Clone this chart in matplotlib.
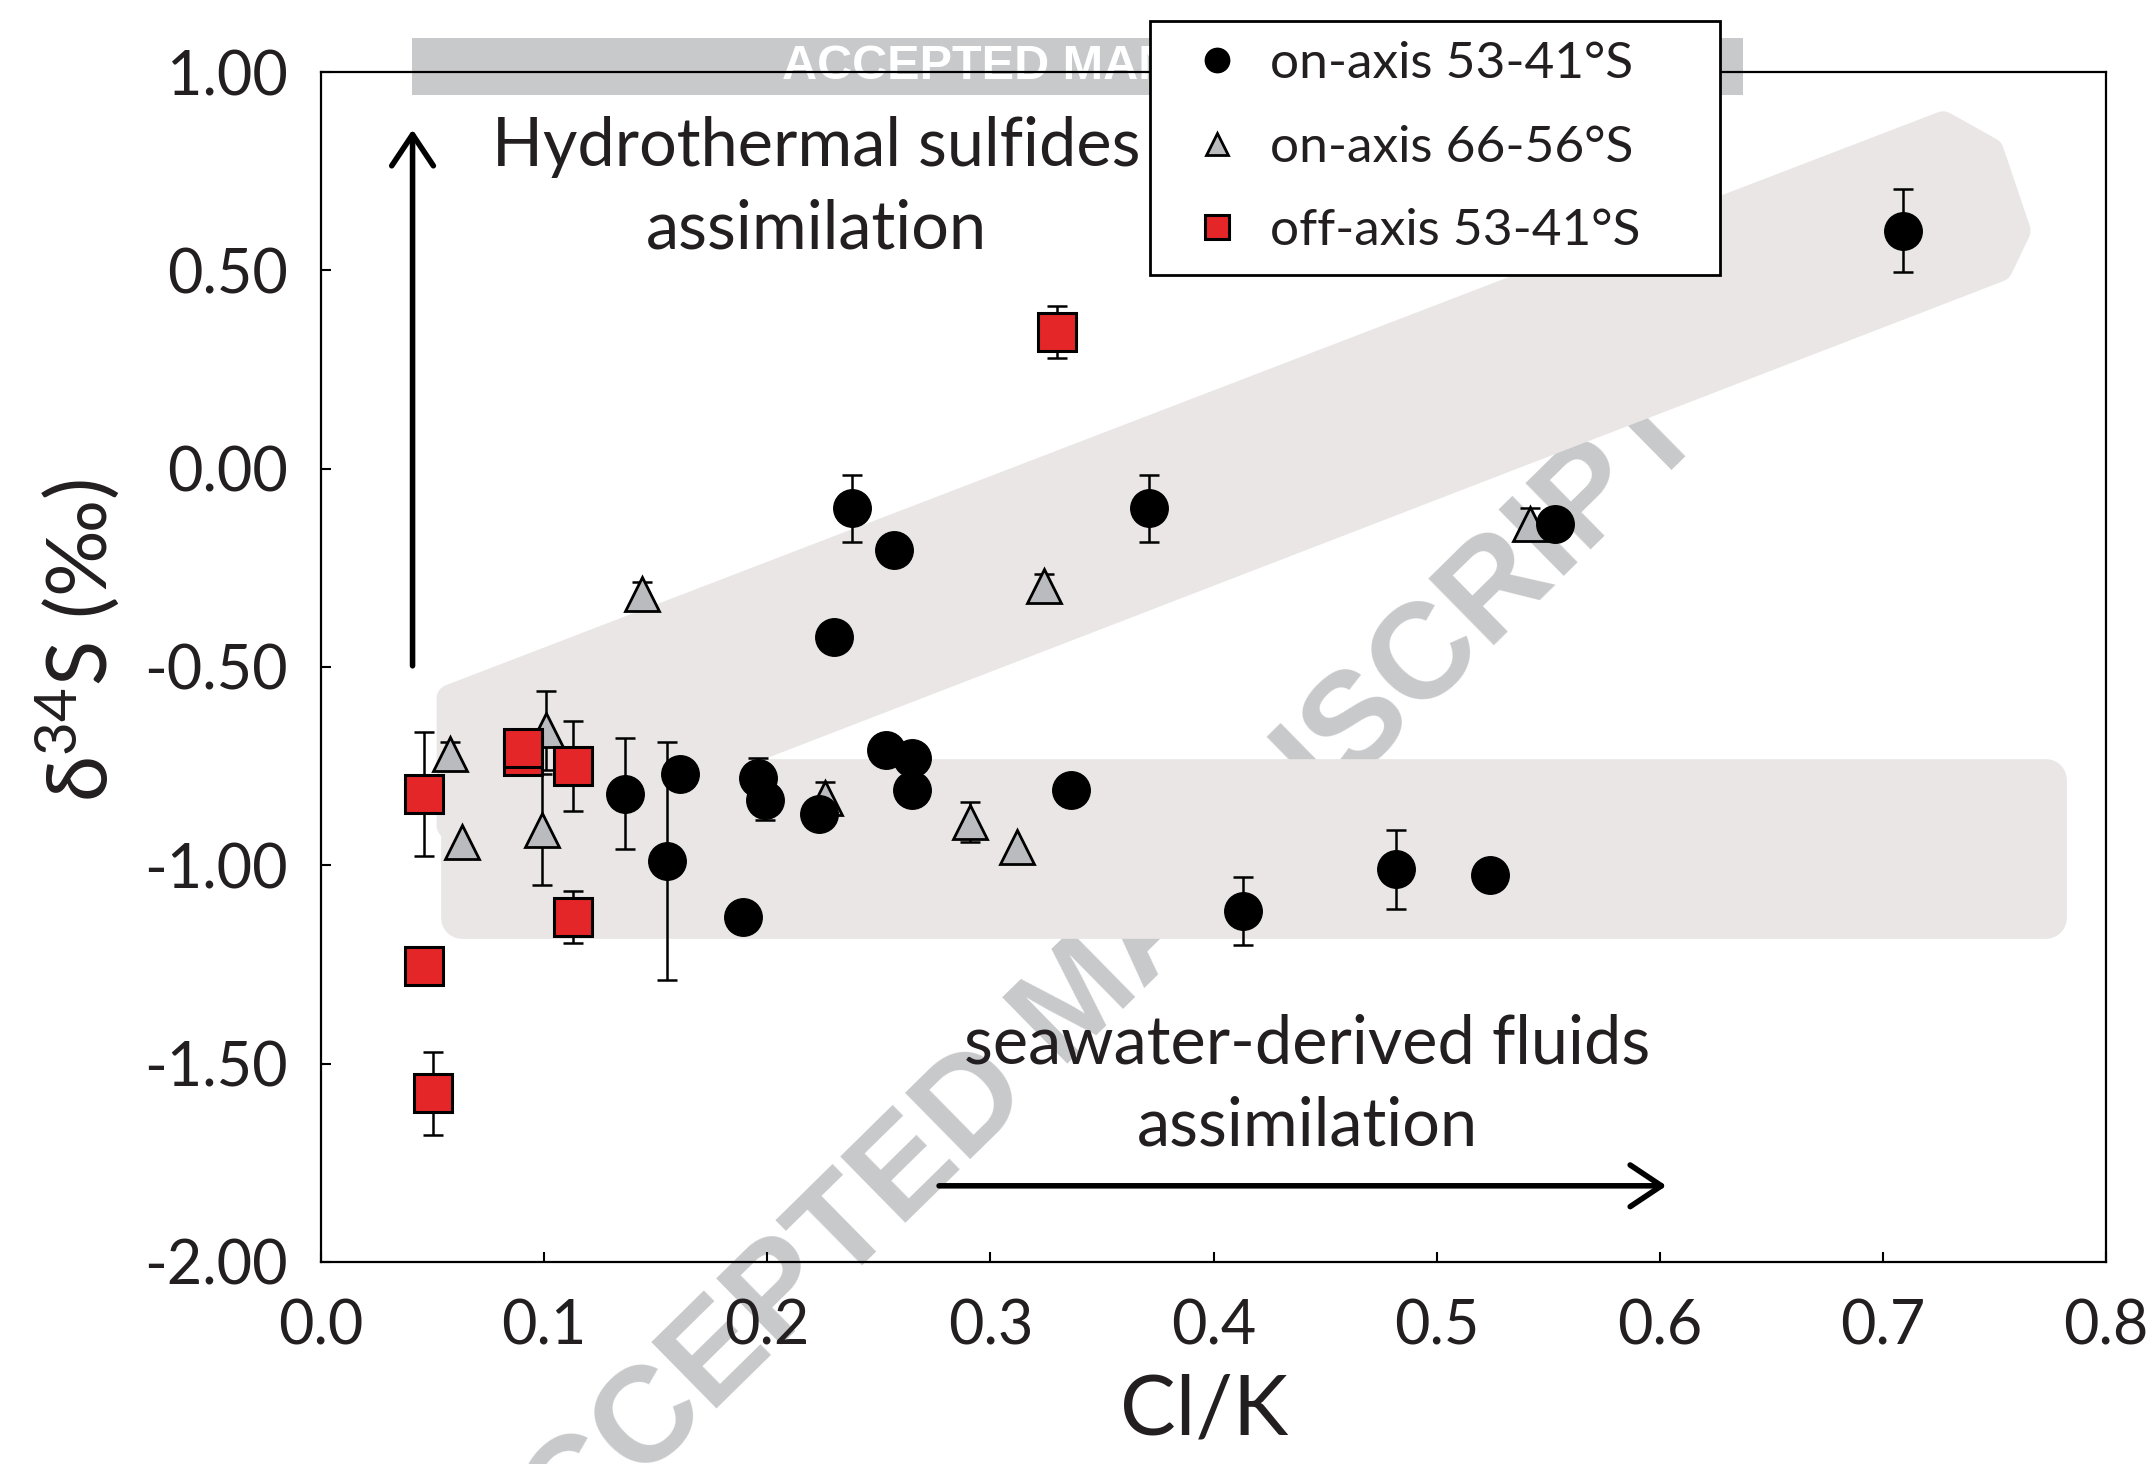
# coding: UTF-8
import matplotlib
matplotlib.use('Agg')
import matplotlib.pyplot as plt
from matplotlib.patches import Polygon, Rectangle

plt.rcParams['font.family'] = ['Lato', 'DejaVu Sans']
plt.rcParams['mathtext.default'] = 'regular'

# on-axis 53-41°S  (black circles)
on_n_x = [0.136, 0.161, 0.155, 0.196, 0.199, 0.223, 0.189, 0.253, 0.265, 0.265,
          0.230, 0.336, 0.413, 0.482, 0.524, 0.238, 0.257, 0.371, 0.709, 0.553]
on_n_y = [-0.82, -0.77, -0.99, -0.78, -0.835, -0.87, -1.13, -0.71, -0.73, -0.81,
          -0.425, -0.81, -1.115, -1.01, -1.025, -0.10, -0.205, -0.10, 0.60, -0.14]
on_n_err = [0.14, 0, 0.30, 0.05, 0.05, 0, 0, 0, 0, 0,
            0, 0, 0.085, 0.10, 0, 0.085, 0, 0.085, 0.105, 0]

# on-axis 66-56°S  (grey triangles)
on_s_x = [0.058, 0.063, 0.101, 0.099, 0.144, 0.226, 0.291, 0.312, 0.324, 0.542]
on_s_y = [-0.72, -0.94, -0.66, -0.91, -0.315, -0.83, -0.89, -0.955, -0.295, -0.14]
on_s_err = [0.03, 0, 0.10, 0.14, 0.03, 0.04, 0.05, 0, 0.03, 0.04]

# off-axis 53-41°S  (red squares)
off_x = [0.046, 0.0905, 0.0905, 0.113, 0.113, 0.046, 0.050, 0.330]
off_y = [-0.82, -0.725, -0.705, -0.75, -1.13, -1.255, -1.575, 0.345]
off_err = [0.157, 0, 0, 0.113, 0.065, 0, 0.105, 0.065]

x_ticks = [0.0, 0.1, 0.2, 0.3, 0.4, 0.5, 0.6, 0.7, 0.8]
x_labels = ['0.0', '0.1', '0.2', '0.3', '0.4', '0.5', '0.6', '0.7', '0.8']
y_ticks = [1.0, 0.5, 0.0, -0.5, -1.0, -1.5, -2.0]
y_labels = ['1.00', '0.50', '0.00', '-0.50', '-1.00', '-1.50', '-2.00']

txt = '#231f20'
band = '#e9e6e5'
wm = '#c8c9cb'
bold_font = ['Liberation Sans', 'DejaVu Sans']

fig = plt.figure(figsize=(21.52, 14.64), dpi=100)
ax = fig.add_axes([0.1492, 0.138, 0.8294, 0.8128])
ax.set_facecolor('none')

# grey banner on top (behind the axes)
fig.patches.append(Rectangle((0.1914, 0.935), 0.6186, 0.039, transform=fig.transFigure,
                             fc=wm, ec='none', zorder=-2))
fig.text(0.3634, 0.9545, 'ACCEPTED MANUSCRIPT', color='white', fontsize=35,
         weight='bold', family=bold_font, ha='left', va='center', zorder=-1)

# diagonal watermark
ax.text(0.340, -1.345, 'ACCEPTED MANUSCRIPT', fontsize=98, weight='bold',
        family=bold_font, color=wm, rotation=44.5, rotation_mode='anchor',
        ha='center', va='center', clip_on=False, zorder=0.5)

# shaded fields
ax.add_patch(Polygon([(0.063, -0.785), (0.773, -0.785), (0.773, -1.132), (0.063, -1.132)],
                     closed=True, fc=band, ec=band, lw=30, joinstyle='round', zorder=1))
ax.add_patch(Polygon([(0.058, -0.579), (0.727, 0.866), (0.748, 0.80), (0.760, 0.60),
                      (0.752, 0.506), (0.104, -0.9), (0.058, -0.9)],
                     closed=True, fc=band, ec=band, lw=20, joinstyle='round', zorder=1))


def draw(xs, ys, es, marker, fc, ms, mew, z, label):
    ex = [x for x, e in zip(xs, es) if e > 0]
    ey = [y for y, e in zip(ys, es) if e > 0]
    ee = [e for e in es if e > 0]
    ax.errorbar(ex, ey, yerr=ee, fmt='none', ecolor='k', elinewidth=1.8,
                capsize=7, capthick=1.8, zorder=z - 0.5)
    return ax.plot(xs, ys, ls='none', marker=marker, ms=ms, mfc=fc, mec='k',
                   mew=mew, zorder=z, label=label)[0]


h2 = draw(on_s_x, on_s_y, on_s_err, '^', '#babbbe', 25, 2, 3, 'on-axis 66-56°S')
h1 = draw(on_n_x, on_n_y, on_n_err, 'o', 'k', 27, 1, 4, 'on-axis 53-41°S')
h3 = draw(off_x, off_y, off_err, 's', '#e52628', 27, 2.2, 5, 'off-axis 53-41°S')

# arrows
arr = dict(arrowstyle='->,head_length=0.45,head_width=0.3', lw=4, color='k',
           mutation_scale=50, shrinkA=0, shrinkB=0)
ax.annotate('', xy=(0.041, 0.855), xytext=(0.041, -0.497), arrowprops=arr)
ax.annotate('', xy=(0.603, -1.808), xytext=(0.277, -1.808), arrowprops=arr)

ax.text(0.222, 0.812, 'Hydrothermal sulfides', fontsize=48, ha='center', va='center', color=txt)
ax.text(0.222, 0.604, 'assimilation', fontsize=48, ha='center', va='center', color=txt)
ax.text(0.442, -1.451, 'seawater-derived fluids', fontsize=48, ha='center', va='center', color=txt)
ax.text(0.442, -1.658, 'assimilation', fontsize=48, ha='center', va='center', color=txt)

ax.set_xlim(0, 0.8)
ax.set_ylim(-2, 1)
ax.set_xticks(x_ticks)
ax.set_xticklabels(x_labels)
ax.set_yticks(y_ticks)
ax.set_yticklabels(y_labels)
ax.tick_params(direction='in', length=7.5, width=1.5, labelsize=44, labelcolor=txt,
               top=False, right=False)
ax.tick_params(axis='x', pad=26)
ax.tick_params(axis='y', pad=24)
for s in ax.spines.values():
    s.set_linewidth(1.6)

ax.set_xlabel('Cl/K', fontsize=60, color=txt, va='center')
ax.xaxis.set_label_coords(0.495, -0.126)
ax.set_ylabel('δ$^{34}$S (‰)', fontsize=60, color=txt, va='center')
ax.yaxis.set_label_coords(-0.136, 0.522)

leg = ax.legend(handles=[h1, h2, h3], loc='upper left', mode='expand',
                bbox_to_anchor=(0.4644, 0.834, 0.3196, 0.209), borderaxespad=0,
                fontsize=37, labelspacing=0.73, borderpad=0.4, handlelength=1.8,
                handletextpad=0.14, markerscale=0.65, numpoints=1,
                fancybox=False, framealpha=1, labelcolor=txt)
leg.get_frame().set_edgecolor('k')
leg.get_frame().set_linewidth(2)
leg.set_zorder(10)

fig.savefig('out.png', dpi=100)
